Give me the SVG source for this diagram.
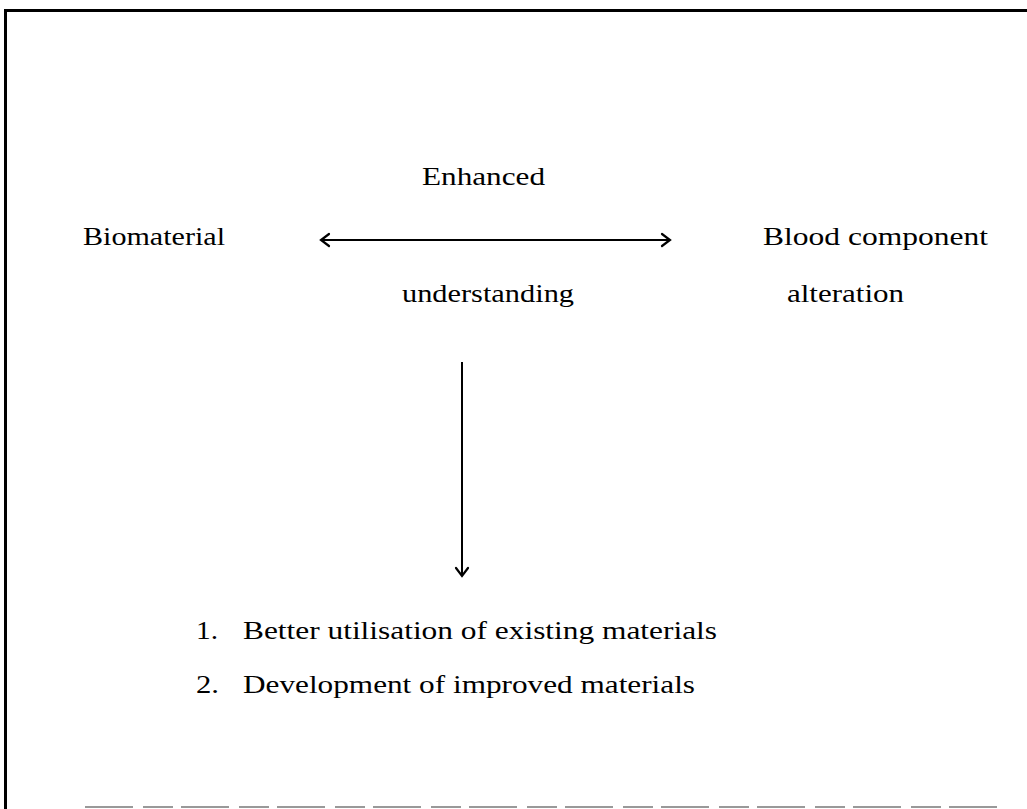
<svg xmlns="http://www.w3.org/2000/svg" width="1027" height="809" viewBox="0 0 1027 809">
  <style>
    .lbl { font-family: "Liberation Serif", "Times New Roman", serif; font-size: 26px; fill: #000; }
    .edge { stroke: #000; stroke-width: 2; fill: none; }
    .head { stroke: #000; stroke-width: 2.2; fill: none; stroke-linecap: round; stroke-linejoin: miter; }
  </style>
  <rect x="0" y="0" width="1027" height="809" fill="#fff"/>
  <!-- outer frame -->
  <g id="frame">
    <path d="M5.5 809 V10.5 H1027" stroke="#000" stroke-width="3" fill="none"/>
    <path d="M85 807 H1000" stroke="#999" stroke-width="2" stroke-dasharray="48 10 30 8" fill="none"/>
  </g>
  <g id="node-biomaterial"><text class="lbl" x="83" y="245" textLength="142" lengthAdjust="spacingAndGlyphs">Biomaterial</text></g>
  <g id="node-blood">
    <text class="lbl" x="763" y="245" textLength="225" lengthAdjust="spacingAndGlyphs">Blood component</text>
    <text class="lbl" x="787" y="302" textLength="117" lengthAdjust="spacingAndGlyphs">alteration</text>
  </g>
  <g id="node-understanding">
    <text class="lbl" x="422" y="185" textLength="123" lengthAdjust="spacingAndGlyphs">Enhanced</text>
    <text class="lbl" x="402" y="302" textLength="172" lengthAdjust="spacingAndGlyphs">understanding</text>
  </g>
  <g id="node-outcomes">
    <text class="lbl" x="196" y="639" textLength="22" lengthAdjust="spacingAndGlyphs">1.</text>
    <text class="lbl" x="243" y="639" textLength="474" lengthAdjust="spacingAndGlyphs">Better utilisation of existing materials</text>
    <text class="lbl" x="196" y="693" textLength="23" lengthAdjust="spacingAndGlyphs">2.</text>
    <text class="lbl" x="243" y="693" textLength="452" lengthAdjust="spacingAndGlyphs">Development of improved materials</text>
  </g>
  <g id="connectors">
    <line class="edge" x1="321" y1="240" x2="670" y2="240"/>
    <path class="head" d="M329 234 L321 240 L329 246"/>
    <path class="head" d="M662 234 L670 240 L662 246"/>
    <line class="edge" x1="462" y1="362" x2="462" y2="576"/>
    <path class="head" d="M456 568 L462 576 L468 568"/>
  </g>
</svg>
